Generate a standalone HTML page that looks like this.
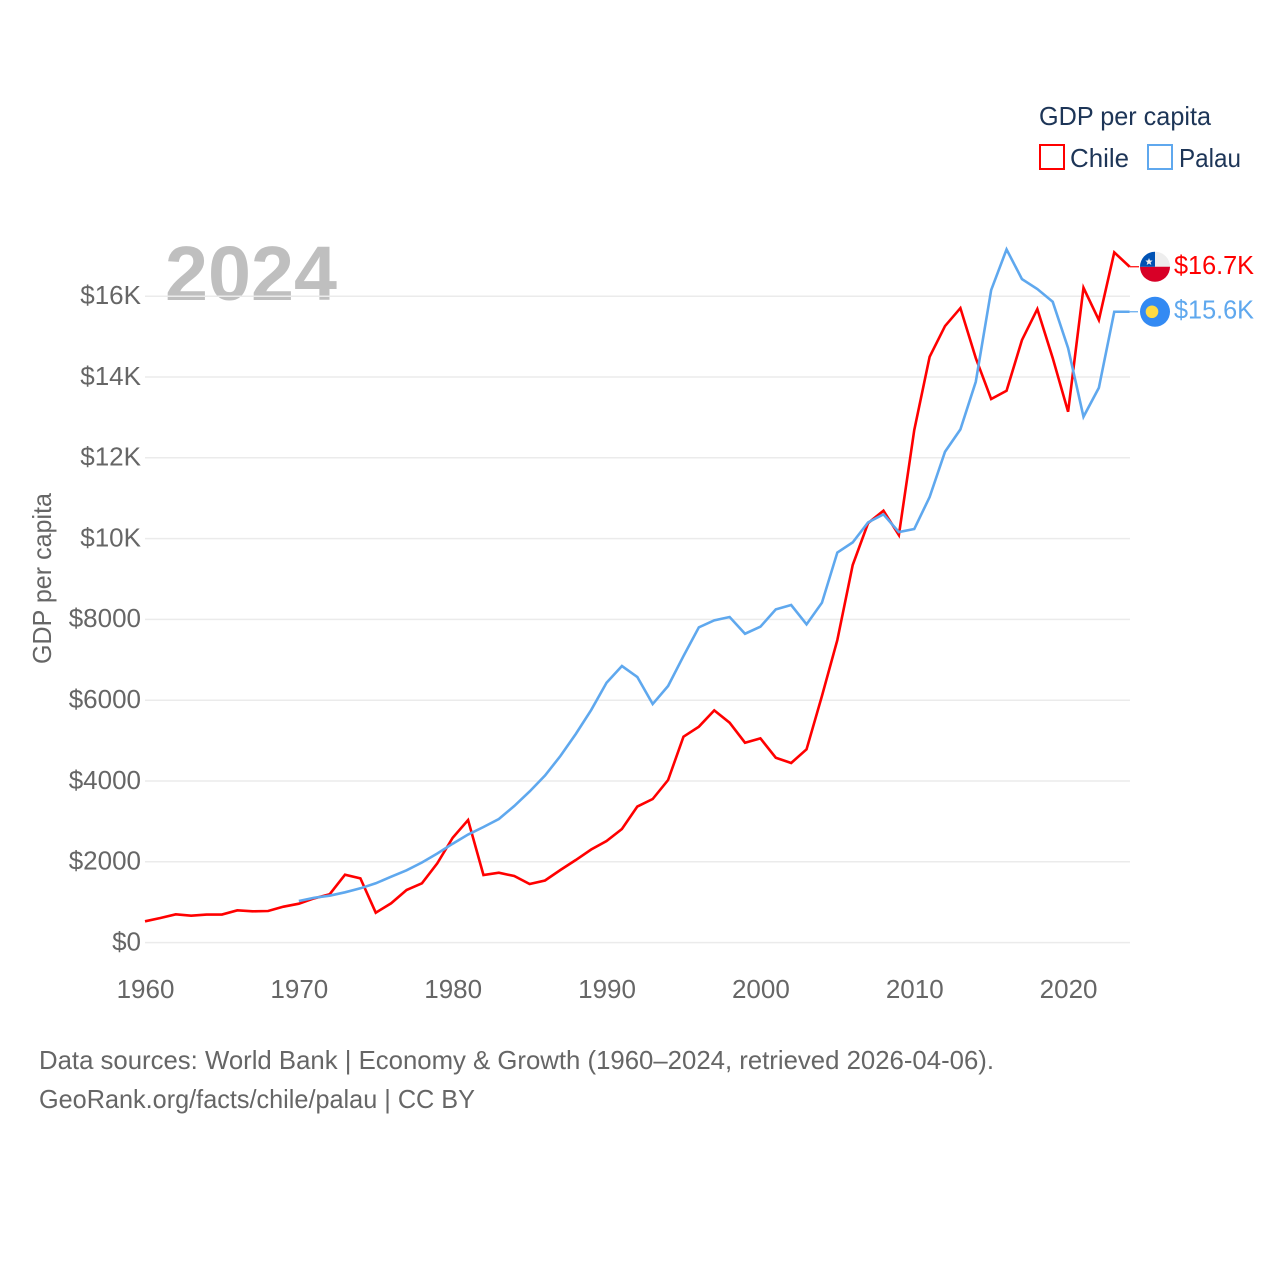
<!DOCTYPE html>
<html lang="en">
<head>
<meta charset="utf-8">
<title>GDP per capita: Chile and Palau</title>
<style>
  html, body { margin: 0; padding: 0; background: #fff; width: 1280px; height: 1280px; overflow: hidden; }
  svg { display: block; }
  text { font-family: "Liberation Sans", sans-serif; }
</style>
</head>
<body>
<svg id="chart" xmlns="http://www.w3.org/2000/svg" width="1280" height="1280" viewBox="0 0 1280 1280">
  <rect x="0" y="0" width="1280" height="1280" fill="#ffffff"/>

  <text x="165" y="300" font-size="77" font-weight="700" fill="#bfbfbf" textLength="172" lengthAdjust="spacingAndGlyphs">2024</text>

  <g id="grid-layer"></g>
  <g id="y-tick-layer"></g>
  <g id="x-tick-layer"></g>

  <text transform="translate(51,664) rotate(-90)" font-size="26" fill="#666666" textLength="171" lengthAdjust="spacingAndGlyphs">GDP per capita</text>

  <g id="series-layer"></g>
  <g id="end-layer"></g>

  <g>
    <text x="1039" y="125" font-size="26" fill="#1d3557" textLength="172" lengthAdjust="spacingAndGlyphs">GDP per capita</text>
    <g>
      <rect x="1040" y="145" width="24" height="24" fill="#ffffff" stroke="#ff0000" stroke-width="2"/>
      <text x="1070" y="167" font-size="26" fill="#1d3557" textLength="59" lengthAdjust="spacingAndGlyphs">Chile</text>
    </g>
    <g>
      <rect x="1148" y="145" width="24" height="24" fill="#ffffff" stroke="#5fa8ee" stroke-width="2"/>
      <text x="1179" y="167" font-size="26" fill="#1d3557" textLength="62" lengthAdjust="spacingAndGlyphs">Palau</text>
    </g>
  </g>

  <text x="39" y="1069" font-size="26" fill="#666666" textLength="955" lengthAdjust="spacingAndGlyphs">Data sources: World Bank | Economy &amp; Growth (1960–2024, retrieved 2026-04-06).</text>
  <text x="39" y="1108" font-size="26" fill="#666666" textLength="436" lengthAdjust="spacingAndGlyphs">GeoRank.org/facts/chile/palau | CC BY</text>
</svg>

<script>
const years = [1960,1961,1962,1963,1964,1965,1966,1967,1968,1969,1970,1971,1972,1973,1974,1975,1976,1977,1978,1979,1980,1981,1982,1983,1984,1985,1986,1987,1988,1989,1990,1991,1992,1993,1994,1995,1996,1997,1998,1999,2000,2001,2002,2003,2004,2005,2006,2007,2008,2009,2010,2011,2012,2013,2014,2015,2016,2017,2018,2019,2020,2021,2022,2023,2024];
const chileValues = [527,609,700,666,695,695,799,775,782,889,963,1096,1195,1681,1591,740,973,1302,1468,1963,2596,3034,1673,1730,1648,1450,1537,1797,2044,2304,2515,2812,3368,3554,4024,5096,5344,5749,5443,4948,5056,4576,4445,4784,6103,7489,9346,10385,10690,10088,12687,14501,15261,15706,14469,13454,13660,14914,15682,14469,13140,16209,15409,17085,16729];
const palauValues = [null,null,null,null,null,null,null,null,null,null,1030,1111,1161,1245,1344,1468,1631,1789,1982,2205,2448,2675,2861,3059,3381,3740,4136,4618,5163,5757,6433,6846,6574,5905,6351,7093,7804,7977,8059,7645,7819,8249,8356,7878,8413,9655,9907,10402,10600,10162,10237,11029,12150,12704,13882,16152,17159,16424,16177,15862,14716,13016,13734,15615,15615];
const yTickValues = [0,2000,4000,6000,8000,10000,12000,14000,16000];
const yTickLabels = ['$0','$2000','$4000','$6000','$8000','$10K','$12K','$14K','$16K'];
const xTickLabels = ['1960','1970','1980','1990','2000','2010','2020'];
const endLabels = ['$16.7K','$15.6K'];

const SVG_NS = 'http://www.w3.org/2000/svg';
const X_ORIGIN = 145, X_PER_YEAR = 15.385;
const Y_ORIGIN = 942.6, Y_PER_DOLLAR = 0.0404;
const GRID_LEFT = 145, GRID_RIGHT = 1130;
const CHILE_COLOR = '#ff0000', PALAU_COLOR = '#5fa8ee';

function xScale(year) { return X_ORIGIN + (year - years[0]) * X_PER_YEAR; }
function yScale(value) { return Y_ORIGIN - value * Y_PER_DOLLAR; }

function make(tag, attrs, parent) {
  const node = document.createElementNS(SVG_NS, tag);
  for (const key in attrs) node.setAttribute(key, attrs[key]);
  parent.appendChild(node);
  return node;
}

const gridLayer = document.getElementById('grid-layer');
const yTickLayer = document.getElementById('y-tick-layer');
const xTickLayer = document.getElementById('x-tick-layer');
const seriesLayer = document.getElementById('series-layer');
const endLayer = document.getElementById('end-layer');

yTickValues.forEach(function (value, i) {
  const line = make('line', { x1: GRID_LEFT, x2: GRID_RIGHT, y1: yScale(value), y2: yScale(value), stroke: '#ebebeb', 'stroke-width': 1.5 }, gridLayer);
  
  
  const label = make('text', { x: 141, y: yScale(value) + 7.8, 'text-anchor': 'end', 'font-size': 26, fill: '#666666' }, yTickLayer);
  label.textContent = yTickLabels[i];
  
  
});

xTickLabels.forEach(function (text) {
  const label = make('text', { x: xScale(Number(text)) + 0.5, y: 998, 'text-anchor': 'middle', 'font-size': 26, fill: '#666666' }, xTickLayer);
  label.textContent = text;
  
  
});

function pathFor(values) {
  let d = '';
  values.forEach(function (value, i) {
    if (value === null) return;
    d += (d === '' ? 'M' : 'L') + xScale(years[i]).toFixed(2) + ' ' + yScale(value).toFixed(2);
  });
  return d;
}

const chileLine = make('path', { d: pathFor(chileValues), fill: 'none', stroke: CHILE_COLOR, 'stroke-width': 2.6 }, seriesLayer);



const palauLine = make('path', { d: pathFor(palauValues), fill: 'none', stroke: PALAU_COLOR, 'stroke-width': 2.6 }, seriesLayer);



const lastX = xScale(years[years.length - 1]);
const chileEndY = yScale(chileValues[chileValues.length - 1]);
const palauEndY = yScale(palauValues[palauValues.length - 1]);

const chileConnector = make('line', { x1: lastX, x2: 1139, y1: chileEndY, y2: chileEndY, stroke: CHILE_COLOR, 'stroke-width': 1.2 }, endLayer);



const palauConnector = make('line', { x1: lastX, x2: 1138, y1: palauEndY, y2: palauEndY, stroke: PALAU_COLOR, 'stroke-width': 1.2 }, endLayer);



/* Chile flag */
const chileFlag = make('g', { transform: 'translate(1155,' + chileEndY + ')' }, endLayer);


make('circle', { cx: 0, cy: 0, r: 15, fill: '#eeeeee' }, chileFlag);
make('path', { d: 'M-15 0A15 15 0 0 0 15 0Z', fill: '#d80027' }, chileFlag);
make('path', { d: 'M-15 0A15 15 0 0 1 0 -15V0Z', fill: '#0052b4' }, chileFlag);
make('path', { d: 'M-6 -8.8L-5 -6.2L-2.4 -6.2L-4.4 -4.4L-3.7 -1.8L-6 -3.3L-8.3 -1.8L-7.6 -4.4L-9.6 -6.2L-7 -6.2Z', fill: '#eeeeee' }, chileFlag);

/* Palau flag */
const palauFlag = make('g', { transform: 'translate(1155,' + palauEndY + ')' }, endLayer);


make('circle', { cx: 0, cy: 0, r: 15, fill: '#338af3' }, palauFlag);
make('circle', { cx: -3, cy: 0, r: 6.3, fill: '#ffda44' }, palauFlag);

const chileEndLabel = make('text', { x: 1174, y: chileEndY + 7.5, 'font-size': 26, fill: CHILE_COLOR, textLength: 80, lengthAdjust: 'spacingAndGlyphs' }, endLayer);
chileEndLabel.textContent = endLabels[0];



const palauEndLabel = make('text', { x: 1174, y: palauEndY + 6.5, 'font-size': 26, fill: PALAU_COLOR, textLength: 80, lengthAdjust: 'spacingAndGlyphs' }, endLayer);
palauEndLabel.textContent = endLabels[1];


</script>
</body>
</html>
